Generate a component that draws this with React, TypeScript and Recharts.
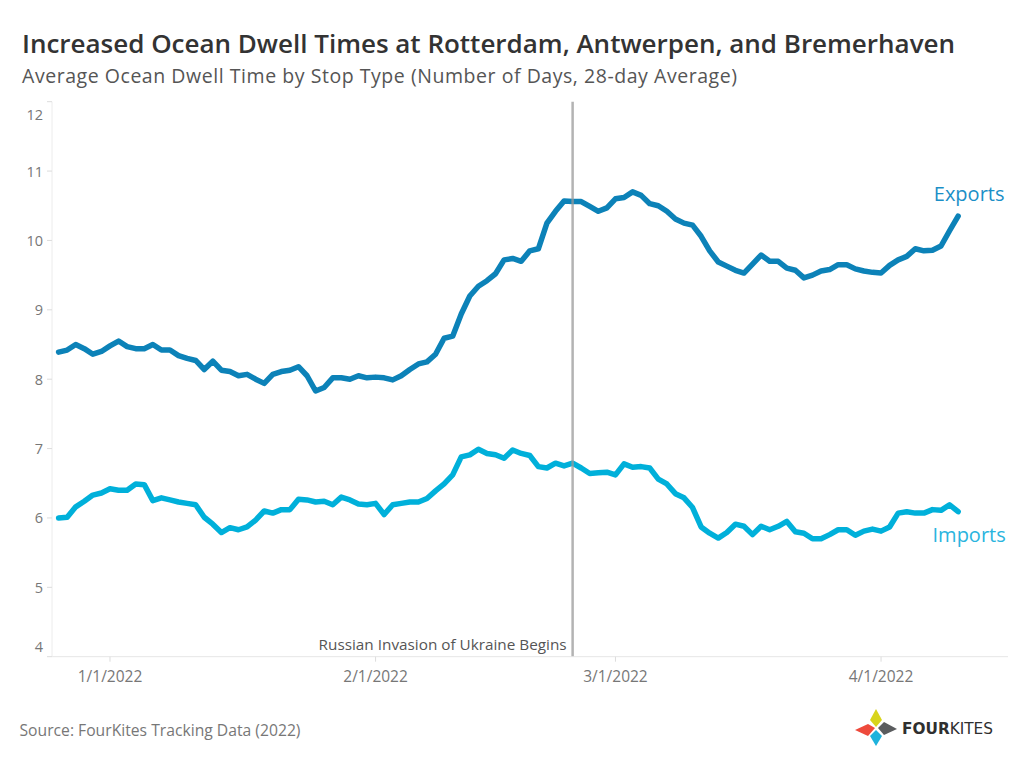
import { Line, LineChart, ReferenceLine, XAxis, YAxis } from "recharts"

const FONT = "'Open Sans', 'Noto Sans', sans-serif"
const DAY_MS = 86400000

// daily 28-day averages, 12/26/2021 .. 4/10/2022
const FIRST_DATE = "2021-12-26"
const EXPORTS = [
  8.39, 8.42, 8.5, 8.44, 8.36, 8.4, 8.48, 8.55, 8.47, 8.44,
  8.44, 8.5, 8.42, 8.42, 8.34, 8.3, 8.27, 8.14, 8.26, 8.13,
  8.11, 8.05, 8.07, 8.0, 7.94, 8.07, 8.11, 8.13, 8.18, 8.05,
  7.83, 7.88, 8.02, 8.02, 8.0, 8.05, 8.02, 8.03, 8.02, 7.99,
  8.05, 8.14, 8.22, 8.25, 8.36, 8.59, 8.62, 8.94, 9.2, 9.34,
  9.42, 9.52, 9.72, 9.74, 9.7, 9.85, 9.88, 10.25, 10.42, 10.57,
  10.56, 10.56, 10.49, 10.42, 10.47, 10.6, 10.62, 10.7, 10.65, 10.53,
  10.5, 10.42, 10.31, 10.25, 10.22, 10.06, 9.85, 9.69, 9.63, 9.57,
  9.53, 9.66, 9.79, 9.7, 9.7, 9.6, 9.57, 9.46, 9.5, 9.56,
  9.58, 9.65, 9.65, 9.59, 9.56, 9.54, 9.53, 9.64, 9.72, 9.77,
  9.88, 9.85, 9.86, 9.92, 10.14, 10.35,
]
const IMPORTS = [
  6.0, 6.01, 6.16, 6.24, 6.33, 6.36, 6.42, 6.4, 6.4, 6.49,
  6.48, 6.25, 6.29, 6.26, 6.23, 6.21, 6.19, 6.01, 5.91, 5.79,
  5.86, 5.83, 5.87, 5.97, 6.1, 6.07, 6.12, 6.12, 6.27, 6.26,
  6.23, 6.24, 6.19, 6.3, 6.26, 6.2, 6.19, 6.21, 6.05, 6.19,
  6.21, 6.23, 6.23, 6.28, 6.39, 6.49, 6.62, 6.88, 6.91, 6.99,
  6.93, 6.91, 6.86, 6.98, 6.93, 6.9, 6.74, 6.72, 6.79, 6.75,
  6.79, 6.72, 6.64, 6.65, 6.66, 6.62, 6.78, 6.73, 6.74, 6.72,
  6.56, 6.49, 6.35, 6.29, 6.15, 5.87, 5.78, 5.71, 5.79, 5.91,
  5.88, 5.76, 5.88, 5.83, 5.88, 5.95, 5.8, 5.78, 5.7, 5.7,
  5.76, 5.83, 5.83, 5.75, 5.81, 5.84, 5.81, 5.87, 6.07, 6.09,
  6.07, 6.07, 6.12, 6.11, 6.19, 6.09,
]

const TICK_DATES = ["2022-01-01", "2022-02-01", "2022-03-01", "2022-04-01"]
const TICK_LABELS = ["1/1/2022", "2/1/2022", "3/1/2022", "4/1/2022"]
const Y_TICKS = [4, 5, 6, 7, 8, 9, 10, 11, 12]
const INVASION_DATE = "2022-02-24"

const EXPORT_COLOR = "#0c82b8"
const IMPORT_COLOR = "#00b0da"

/** days since 1/1/2022 */
const ORIGIN = Date.parse("2022-01-01")
const toDay = (iso: string) => (Date.parse(iso) - ORIGIN) / DAY_MS

const firstDay = toDay(FIRST_DATE)
const rows = EXPORTS.map((v, i) => ({
  day: firstDay + i,
  exports: v,
  imports: IMPORTS[i],
}))
const tickDays = TICK_DATES.map(toDay)
const lastIndex = rows.length - 1

function YTick({ x, y, payload }: any) {
  // tableau pulls the end labels inside the axis range
  let shift = 0
  if (payload.value === 12) shift = 13
  if (payload.value === 4) shift = -10
  return (
    <text
      x={x}
      y={y + shift}
      textAnchor="end"
      dominantBaseline="central"
      fill="#777"
      fontSize={14.5}
      fontFamily={FONT}
    >
      {payload.value}
    </text>
  )
}

function endLabel(text: string, color: string, dx: number, dy: number) {
  return (props: any) => {
    if (props.index !== lastIndex) return null
    return (
      <text
        x={props.x + dx}
        y={props.y + dy}
        textAnchor="middle"
        fill={color}
        fontSize={20}
        fontFamily={FONT}
      >
        {text}
      </text>
    )
  }
}

function InvasionLabel(props: any) {
  const vb = props.viewBox
  return (
    <text
      x={vb.x - 6}
      y={vb.y + vb.height - 7}
      textAnchor="end"
      fill="#555"
      fontSize={15.3}
      fontFamily={FONT}
    >
      Russian Invasion of Ukraine Begins
    </text>
  )
}

export default function App() {
  return (
    <div
      style={{
        position: "absolute",
        left: 0,
        top: 0,
        width: 1024,
        height: 768,
        background: "#fff",
        overflow: "hidden",
        fontFamily: FONT,
      }}
    >
      <div style={{ position: "absolute", left: 0, top: 0 }}>
        <LineChart
          width={1024}
          height={768}
          data={rows}
          margin={{ top: 101.7, right: 16, bottom: 71.3, left: 0 }}
        >
          <XAxis
            type="number"
            dataKey="day"
            domain={[-6.77, 104.82]}
            allowDataOverflow
            ticks={tickDays}
            tickFormatter={(d: number) => TICK_LABELS[tickDays.indexOf(d)] ?? ""}
            height={40}
            tickSize={5}
            tickMargin={9}
            axisLine={{ stroke: "#e6e6e6" }}
            tickLine={{ stroke: "#dcdcdc" }}
            tick={{ fill: "#777", fontSize: 15.5, fontFamily: FONT }}
          />
          <YAxis
            type="number"
            domain={[4, 12]}
            ticks={Y_TICKS}
            width={52}
            tickSize={5}
            tickMargin={4}
            axisLine={{ stroke: "#ececec" }}
            tickLine={{ stroke: "#dcdcdc" }}
            tick={<YTick />}
          />
          <Line
            dataKey="exports"
            stroke={EXPORT_COLOR}
            strokeWidth={5.5}
            strokeLinejoin="round"
            strokeLinecap="round"
            dot={false}
            activeDot={false}
            isAnimationActive={false}
            label={endLabel("Exports", "#1b8fc7", 11, -15)}
          />
          <Line
            dataKey="imports"
            stroke={IMPORT_COLOR}
            strokeWidth={5.5}
            strokeLinejoin="round"
            strokeLinecap="round"
            dot={false}
            activeDot={false}
            isAnimationActive={false}
            label={endLabel("Imports", "#2ab4de", 11, 30)}
          />
          <ReferenceLine
            x={toDay(INVASION_DATE)}
            stroke="#9a9a9a"
            strokeOpacity={0.75}
            strokeWidth={2.5}
            label={InvasionLabel}
          />
        </LineChart>
      </div>

      <svg
        width={1024}
        height={768}
        style={{ position: "absolute", left: 0, top: 0, pointerEvents: "none" }}
      >
        <text
          x={22}
          y={53.3}
          fill="#333"
          fontSize={26}
          fontWeight={600}
          fontFamily={FONT}
          textLength={933}
          lengthAdjust="spacing"
        >
          Increased Ocean Dwell Times at Rotterdam, Antwerpen, and Bremerhaven
        </text>
        <text
          x={22}
          y={82.7}
          fill="#555"
          fontSize={19.5}
          fontFamily={FONT}
          textLength={715}
          lengthAdjust="spacing"
        >
          Average Ocean Dwell Time by Stop Type (Number of Days, 28-day Average)
        </text>
        <text x={19.5} y={735.5} fill="#777" fontSize={15.7} fontFamily={FONT}>
          Source: FourKites Tracking Data (2022)
        </text>

        {/* FourKites logo */}
        <polygon points="876,709 882,720 876,727 870,720" fill="#d8d41c" />
        <polygon points="855,730 868,724 875,728 868,736" fill="#ee4a3c" />
        <polygon points="897,729 884,722 878,728 884,735" fill="#5a5c5e" />
        <polygon points="876,746 870,736 876,730 882,736" fill="#1fb2dc" />
        <text
          x={902}
          y={733.5}
          fill="#2f2f2f"
          fontSize={16.5}
          fontFamily="'DejaVu Sans', sans-serif"
          textLength={91}
          lengthAdjust="spacingAndGlyphs"
        >
          <tspan fontWeight={700}>FOUR</tspan>
          <tspan fontWeight={400}>KITES</tspan>
        </text>
      </svg>
    </div>
  )
}
